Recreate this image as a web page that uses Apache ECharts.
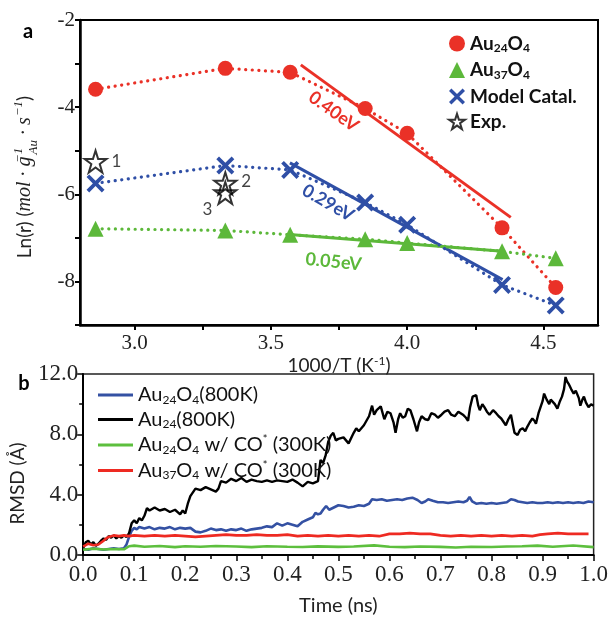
<!DOCTYPE html>
<html>
<head>
<meta charset="utf-8">
<script src="https://cdn.jsdelivr.net/npm/echarts@6/dist/echarts.min.js"></script>
<style>
html, body { margin: 0; padding: 0; background: #fff; }
#main { width: 611px; height: 617px; }
</style>
</head>
<body>
<div id="main"></div>
<script>
// ---- panel a : Arrhenius plot ----
var invT = [2.857, 3.333, 3.571, 3.846, 4.0, 4.348, 4.545];
var au24o4 = [-3.59, -3.11, -3.20, -4.03, -4.60, -6.77, -8.14];
var au37o4 = [-6.79, -6.83, -6.93, -7.03, -7.12, -7.31, -7.47];
var modelCatal = [-5.75, -5.34, -5.44, -6.19, -6.70, -8.08, -8.55];
var expX = [2.857, 3.333, 3.333];
var expY = [-5.25, -5.75, -5.97];
var expLabels = ['1', '2', '3'];
var fitRed = [[3.61, -3.03], [4.38, -6.53]];
var fitBlue = [[3.57, -5.28], [4.35, -7.96]];
var fitGreen = [[3.58, -6.93], [4.35, -7.31]];
var xTicksA = [3.0, 3.25, 3.5, 3.75, 4.0, 4.25, 4.5];
var xLabelsA = [3.0, 3.5, 4.0, 4.5];

// ---- panel b : RMSD traces [time (ns), RMSD (A)] ----
var blackTrace = [
  [0.000,0.45],[0.005,0.85],[0.010,0.95],[0.015,0.70],[0.020,0.85],[0.025,0.60],[0.030,0.75],[0.035,0.95],[0.040,1.10],[0.045,1.00],
  [0.050,1.25],[0.055,1.15],[0.060,1.30],[0.065,1.10],[0.070,1.25],[0.075,1.15],[0.080,1.30],[0.085,1.20],[0.090,1.45],[0.095,2.10],
  [0.100,2.30],[0.105,2.10],[0.110,2.45],[0.115,2.30],[0.120,2.60],[0.125,3.10],[0.130,2.95],[0.140,3.15],[0.150,2.95],[0.160,3.05],
  [0.170,2.85],[0.180,3.00],[0.190,2.70],[0.195,2.95],[0.200,2.75],[0.205,3.40],[0.210,3.90],[0.220,4.40],[0.230,4.30],[0.240,4.50],
  [0.250,4.35],[0.260,4.20],[0.265,4.40],[0.270,4.90],[0.280,4.80],[0.290,5.05],[0.300,4.90],[0.310,5.10],[0.320,4.85],[0.330,5.00],
  [0.340,4.90],[0.350,4.85],[0.360,4.95],[0.370,4.85],[0.380,4.95],[0.390,4.90],[0.400,4.85],[0.410,5.00],[0.420,4.80],[0.430,4.55],
  [0.440,4.85],[0.450,4.75],[0.460,4.90],[0.465,6.30],[0.470,6.10],[0.475,6.60],[0.480,7.50],[0.485,7.90],[0.490,8.10],[0.495,7.60],
  [0.500,7.70],[0.510,7.80],[0.520,7.40],[0.530,8.10],[0.535,8.40],[0.540,8.20],[0.550,8.60],[0.555,8.90],[0.560,9.20],[0.566,9.90],
  [0.570,9.30],[0.575,9.60],[0.583,9.85],[0.590,9.00],[0.596,9.50],[0.602,9.40],[0.608,8.80],[0.612,8.10],[0.617,9.00],[0.621,9.40],
  [0.626,9.10],[0.631,9.20],[0.636,9.70],[0.641,9.60],[0.647,9.00],[0.654,8.20],[0.658,8.80],[0.663,9.20],[0.670,9.00],[0.676,8.95],
  [0.682,9.40],[0.689,9.30],[0.695,9.10],[0.702,9.30],[0.708,9.50],[0.715,9.60],[0.721,9.30],[0.728,9.20],[0.735,9.50],[0.744,9.30],
  [0.750,9.10],[0.754,8.90],[0.758,9.80],[0.763,10.50],[0.770,10.60],[0.774,9.90],[0.777,9.60],[0.782,10.00],[0.786,9.80],[0.791,9.50],
  [0.796,9.30],[0.803,9.60],[0.809,9.40],[0.814,9.20],[0.819,9.05],[0.824,8.80],[0.828,8.60],[0.833,9.00],[0.838,9.30],[0.842,8.60],
  [0.845,8.10],[0.851,7.95],[0.856,8.30],[0.861,8.40],[0.866,8.20],[0.870,8.50],[0.875,8.80],[0.880,9.05],[0.884,8.90],[0.887,8.70],
  [0.892,9.40],[0.896,9.80],[0.900,10.20],[0.903,10.70],[0.908,10.30],[0.913,10.00],[0.916,10.30],[0.919,10.40],[0.924,10.00],[0.929,9.70],
  [0.934,10.20],[0.938,10.50],[0.942,11.00],[0.945,11.80],[0.948,11.50],[0.951,11.35],[0.956,11.00],[0.961,10.70],[0.965,10.90],[0.968,11.00],
  [0.971,10.40],[0.974,9.90],[0.978,10.30],[0.981,10.50],[0.985,10.10],[0.990,9.80],[0.995,10.00],[1.000,9.90]
];
var blueTrace = [
  [0.000,0.40],[0.010,0.35],[0.020,0.45],[0.030,0.40],[0.040,0.35],[0.050,0.40],[0.060,0.45],[0.070,0.40],[0.080,0.45],[0.085,0.70],
  [0.090,1.20],[0.095,1.60],[0.100,1.80],[0.105,1.70],[0.110,1.85],[0.120,1.75],[0.130,1.85],[0.140,1.70],[0.150,1.80],[0.160,1.75],
  [0.170,1.85],[0.180,1.70],[0.190,1.80],[0.200,1.75],[0.210,1.80],[0.220,1.55],[0.230,1.50],[0.240,1.60],[0.250,1.75],[0.260,1.65],
  [0.270,1.70],[0.280,1.60],[0.290,1.70],[0.300,1.65],[0.310,1.75],[0.320,1.60],[0.330,1.70],[0.340,1.75],[0.350,1.80],[0.360,1.90],
  [0.370,1.85],[0.380,2.10],[0.390,1.95],[0.400,2.10],[0.410,2.00],[0.420,1.90],[0.430,2.20],[0.440,2.35],[0.450,2.50],[0.455,2.80],
  [0.460,2.70],[0.465,2.75],[0.470,3.00],[0.476,3.25],[0.482,3.00],[0.488,3.10],[0.494,3.20],[0.500,3.30],[0.510,3.25],[0.520,3.15],
  [0.530,3.20],[0.540,3.30],[0.550,3.25],[0.560,3.40],[0.566,3.70],[0.575,3.65],[0.585,3.70],[0.595,3.60],[0.605,3.65],[0.615,3.70],
  [0.625,3.65],[0.635,3.75],[0.645,3.80],[0.655,3.65],[0.663,3.45],[0.670,3.55],[0.676,3.70],[0.685,3.60],[0.695,3.50],[0.705,3.50],
  [0.715,3.45],[0.725,3.50],[0.735,3.55],[0.745,3.50],[0.752,3.60],[0.757,3.85],[0.762,3.55],[0.770,3.40],[0.780,3.45],[0.790,3.40],
  [0.800,3.45],[0.810,3.40],[0.820,3.45],[0.830,3.50],[0.838,3.70],[0.845,3.65],[0.852,3.55],[0.861,3.50],[0.870,3.45],[0.880,3.50],
  [0.890,3.45],[0.900,3.45],[0.910,3.50],[0.920,3.45],[0.930,3.50],[0.940,3.45],[0.950,3.50],[0.960,3.45],[0.970,3.50],[0.980,3.45],
  [0.990,3.55],[1.000,3.50]
];
var greenTrace = [
  [0.00,0.35],[0.02,0.42],[0.04,0.36],[0.06,0.40],[0.08,0.38],[0.09,0.58],[0.10,0.62],[0.12,0.55],[0.15,0.60],[0.18,0.52],
  [0.20,0.58],[0.23,0.55],[0.26,0.60],[0.30,0.56],[0.33,0.52],[0.36,0.58],[0.40,0.55],[0.43,0.53],[0.46,0.57],[0.50,0.54],
  [0.53,0.56],[0.57,0.64],[0.60,0.55],[0.63,0.52],[0.66,0.56],[0.70,0.54],[0.73,0.50],[0.76,0.55],[0.80,0.53],[0.83,0.56],
  [0.86,0.58],[0.89,0.62],[0.92,0.55],[0.96,0.63],[1.00,0.52]
];
var redTrace = [
  [0.00,0.55],[0.01,0.75],[0.02,0.65],[0.03,0.70],[0.04,0.95],[0.045,1.10],[0.05,1.20],[0.06,1.30],[0.07,1.25],[0.08,1.30],
  [0.09,1.25],[0.10,1.30],[0.12,1.25],[0.14,1.30],[0.16,1.25],[0.18,1.30],[0.20,1.25],[0.22,1.20],[0.24,1.25],[0.26,1.30],
  [0.28,1.35],[0.30,1.30],[0.32,1.30],[0.34,1.35],[0.36,1.30],[0.38,1.30],[0.40,1.35],[0.42,1.25],[0.44,1.30],[0.46,1.25],
  [0.48,1.30],[0.50,1.25],[0.52,1.30],[0.54,1.25],[0.56,1.30],[0.58,1.25],[0.60,1.40],[0.62,1.40],[0.64,1.45],[0.66,1.40],
  [0.68,1.40],[0.70,1.30],[0.72,1.25],[0.74,1.30],[0.76,1.25],[0.78,1.30],[0.80,1.25],[0.82,1.30],[0.84,1.25],[0.86,1.30],
  [0.88,1.25],[0.895,1.35],[0.91,1.40],[0.93,1.45],[0.95,1.40],[0.97,1.40],[0.99,1.40]
];

var RED = '#ea3127', GREEN = '#5cb83a', BLUE = '#2f4fa6';
var serif = 'Liberation Serif', sans = 'Lato';
var xPath = 'path://M3,0L10,7L17,0L20,3L13,10L20,17L17,20L10,13L3,20L0,17L7,10L0,3Z';
var starPath = 'path://M50,2L61,36L97,36L68,57L79,92L50,71L21,92L32,57L3,36L39,36Z';

function pairs(xs, ys) { return xs.map(function (x, i) { return [x, ys[i]]; }); }

var dotted = { type: [0.1, 6.5], cap: 'round', width: 3.2 };

var legendA = {
  'Au24O4': '{b|Au}{s|24}{b|O}{s|4}',
  'Au37O4': '{b|Au}{s|37}{b|O}{s|4}',
  'Model Catal.': '{b|Model Catal.}',
  'Exp.': '{b|Exp.}'
};
var legendB = {
  'Au24O4(800K)': '{t|Au}{s|24}{t|O}{s|4}{t|(800K)}',
  'Au24(800K)': '{t|Au}{s|24}{t|(800K)}',
  'Au24O4 w/ CO* (300K)': '{t|Au}{s|24}{t|O}{s|4}{t| w/ CO}{p|*}{t| (300K)}',
  'Au37O4 w/ CO* (300K)': '{t|Au}{s|37}{t|O}{s|4}{t| w/ CO}{p|*}{t| (300K)}'
};

var chart = echarts.init(document.getElementById('main'));

var option = {
  animation: false,
  backgroundColor: '#fff',
  grid: [
    { left: 80, top: 20, right: 13, height: 305, show: true, borderColor: '#000', borderWidth: 2 },
    { left: 82, top: 374, right: 14, height: 183, show: true, borderColor: '#222', borderWidth: 1.5 }
  ],
  xAxis: [
    {
      type: 'value', gridIndex: 0, min: 2.8, max: 4.7,
      axisLine: { onZero: false, lineStyle: { color: '#000', width: 2.5 } },
      axisTick: { customValues: xTicksA, length: 5, lineStyle: { color: '#000', width: 2 } },
      axisLabel: { customValues: xLabelsA, formatter: function (v) { return v.toFixed(1); },
        fontFamily: serif, fontSize: 21, color: '#222', margin: 8 },
      splitLine: { show: false },
      name: '{n|1000/T (K}{u|-1}{n|)}', nameLocation: 'middle', nameGap: 22,
      nameTextStyle: { rich: {
        n: { fontFamily: sans, fontSize: 19, color: '#222', lineHeight: 22 },
        u: { fontFamily: sans, fontSize: 12, color: '#222', verticalAlign: 'top' }
      } }
    },
    {
      type: 'value', gridIndex: 1, min: 0, max: 1, interval: 0.1,
      axisLine: { onZero: false, lineStyle: { color: '#000', width: 2 } },
      axisTick: { length: 6, lineStyle: { color: '#000', width: 1.5 } },
      minorTick: { show: true, splitNumber: 2, length: 4, lineStyle: { color: '#000', width: 1.5 } },
      axisLabel: { formatter: function (v) { return v.toFixed(1); }, fontFamily: serif, fontSize: 23, color: '#222', margin: 8 },
      splitLine: { show: false },
      name: 'Time (ns)', nameLocation: 'middle', nameGap: 41,
      nameTextStyle: { fontFamily: sans, fontSize: 20, color: '#222' }
    }
  ],
  yAxis: [
    {
      type: 'value', gridIndex: 0, min: -9, max: -2, interval: 1,
      axisLine: { onZero: false, lineStyle: { color: '#000', width: 2.5 } },
      axisTick: { length: 5, lineStyle: { color: '#000', width: 2 } },
      axisLabel: { formatter: function (v) { return v % 2 === 0 ? String(v) : ''; },
        fontFamily: serif, fontSize: 21, color: '#222', margin: 5 },
      splitLine: { show: false }
    },
    {
      type: 'value', gridIndex: 1, min: 0, max: 12, interval: 4,
      axisLine: { onZero: false, lineStyle: { color: '#000', width: 2 } },
      axisTick: { length: 6, lineStyle: { color: '#000', width: 1.5 } },
      minorTick: { show: true, splitNumber: 2, length: 4, lineStyle: { color: '#000', width: 1.5 } },
      axisLabel: { formatter: function (v) { return v.toFixed(1); }, fontFamily: serif, fontSize: 23, color: '#222', margin: 5 },
      splitLine: { show: false },
      name: 'RMSD (Å)', nameLocation: 'middle', nameGap: 47,
      nameTextStyle: { fontFamily: sans, fontSize: 19, color: '#222', padding: [0, 38, 0, 0] }
    }
  ],
  legend: [
    {
      data: [
        { name: 'Au24O4', icon: 'circle' },
        { name: 'Au37O4', icon: 'triangle' },
        { name: 'Model Catal.', icon: xPath },
        { name: 'Exp.', icon: starPath }
      ],
      orient: 'vertical', left: 443, top: 29, itemWidth: 16, itemHeight: 16, itemGap: 6,
      selectedMode: false,
      formatter: function (name) { return legendA[name]; },
      textStyle: { rich: {
        b: { fontFamily: sans, fontWeight: 'bold', fontSize: 19, color: '#111', lineHeight: 22 },
        s: { fontFamily: sans, fontWeight: 'bold', fontSize: 12, color: '#111', verticalAlign: 'bottom' }
      } }
    },
    {
      data: [
        { name: 'Au24O4(800K)', icon: 'rect' },
        { name: 'Au24(800K)', icon: 'rect' },
        { name: 'Au24O4 w/ CO* (300K)', icon: 'rect' },
        { name: 'Au37O4 w/ CO* (300K)', icon: 'rect' }
      ],
      orient: 'vertical', left: 93, top: 380, itemWidth: 35, itemHeight: 3, itemGap: 3.5,
      selectedMode: false,
      formatter: function (name) { return legendB[name]; },
      textStyle: { rich: {
        t: { fontFamily: sans, fontSize: 20, color: '#111', lineHeight: 22 },
        s: { fontFamily: sans, fontSize: 12, color: '#111', verticalAlign: 'bottom' },
        p: { fontFamily: sans, fontSize: 11, color: '#111', verticalAlign: 'top' }
      } }
    }
  ],
  series: [
    { name: 'Au24O4', type: 'line', xAxisIndex: 0, yAxisIndex: 0, data: pairs(invT, au24o4),
      symbol: 'circle', symbolSize: 15, itemStyle: { color: RED }, lineStyle: Object.assign({ color: RED }, dotted), z: 3 },
    { name: 'Au37O4', type: 'line', xAxisIndex: 0, yAxisIndex: 0, data: pairs(invT, au37o4),
      symbol: 'triangle', symbolSize: 16, itemStyle: { color: GREEN }, lineStyle: Object.assign({ color: GREEN }, dotted), z: 3 },
    { name: 'Model Catal.', type: 'line', xAxisIndex: 0, yAxisIndex: 0, data: pairs(invT, modelCatal),
      symbol: xPath, symbolSize: 18, itemStyle: { color: BLUE }, lineStyle: Object.assign({ color: BLUE }, dotted), z: 3 },
    { name: 'Exp.', type: 'scatter', xAxisIndex: 0, yAxisIndex: 0, symbol: starPath, symbolSize: 22,
      itemStyle: { color: 'rgba(255,255,255,0)', borderColor: '#000', borderWidth: 2 }, z: 4,
      label: { show: true, fontFamily: sans, fontSize: 17, color: '#111' },
      data: expX.map(function (x, i) {
        var lab = i === 2 ? { position: 'left', distance: 3, offset: [2, 17] } : { position: 'right', distance: 4, offset: [0, i === 1 ? -2 : 0] };
        lab.formatter = expLabels[i];
        return { value: [x, expY[i]], label: lab };
      }) },
    { type: 'line', xAxisIndex: 0, yAxisIndex: 0, data: fitRed, symbol: 'none', lineStyle: { color: RED, width: 3 }, z: 2 },
    { type: 'line', xAxisIndex: 0, yAxisIndex: 0, data: fitBlue, symbol: 'none', lineStyle: { color: BLUE, width: 3 }, z: 2 },
    { type: 'line', xAxisIndex: 0, yAxisIndex: 0, data: fitGreen, symbol: 'none', lineStyle: { color: GREEN, width: 3 }, z: 2 },

    { name: 'Au24O4(800K)', type: 'line', xAxisIndex: 1, yAxisIndex: 1, data: blueTrace, symbol: 'none',
      itemStyle: { color: '#3451a3' }, lineStyle: { color: '#3451a3', width: 2.6 } },
    { name: 'Au24(800K)', type: 'line', xAxisIndex: 1, yAxisIndex: 1, data: blackTrace, symbol: 'none',
      itemStyle: { color: '#000' }, lineStyle: { color: '#000', width: 2.4 } },
    { name: 'Au24O4 w/ CO* (300K)', type: 'line', xAxisIndex: 1, yAxisIndex: 1, data: greenTrace, symbol: 'none',
      itemStyle: { color: '#5dbf3e' }, lineStyle: { color: '#5dbf3e', width: 2.6 } },
    { name: 'Au37O4 w/ CO* (300K)', type: 'line', xAxisIndex: 1, yAxisIndex: 1, data: redTrace, symbol: 'none',
      itemStyle: { color: '#ee2a22' }, lineStyle: { color: '#ee2a22', width: 2.6 } }
  ]
};

chart.setOption(option);

// slope labels placed in data coordinates
var notes = [
  { text: '0.40eV', at: [3.73, -4.1], color: RED, rot: -0.62 },
  { text: '0.29eV', at: [3.71, -6.2], color: BLUE, rot: -0.52 },
  { text: '0.05eV', at: [3.73, -7.55], color: GREEN, rot: -0.1 }
];
var graphics = notes.map(function (n) {
  var p = chart.convertToPixel({ gridIndex: 0 }, n.at);
  return { type: 'text', x: p[0], y: p[1], rotation: n.rot, z: 10,
    style: { text: n.text, fontFamily: sans, fontWeight: 'bold', fontSize: 18, fill: n.color, align: 'center', verticalAlign: 'middle' } };
});
graphics.push(
  { type: 'text', x: 28, y: 32, style: { text: 'a', fontFamily: sans, fontWeight: 'bold', fontSize: 20, fill: '#000', align: 'center', verticalAlign: 'middle' } },
  { type: 'text', x: 24, y: 384, style: { text: 'b', fontFamily: sans, fontWeight: 'bold', fontSize: 20, fill: '#000', align: 'center', verticalAlign: 'middle' } },
  { type: 'text', x: 25, y: 177, rotation: Math.PI / 2,
    style: {
      text: '{n|Ln(r) (}{m|mol · g}{up|−1}{dn|Au}{m| · s}{up2|−1}{n|)}',
      align: 'center', verticalAlign: 'middle',
      rich: {
        n: { fontFamily: sans, fontSize: 19, fill: '#222', lineHeight: 30 },
        m: { fontFamily: serif, fontStyle: 'italic', fontSize: 20, fill: '#222', lineHeight: 30 },
        up: { fontFamily: serif, fontStyle: 'italic', fontSize: 13, fill: '#222', verticalAlign: 'top', width: 0, padding: [2, 0, 0, 1] },
        dn: { fontFamily: serif, fontStyle: 'italic', fontSize: 13, fill: '#222', verticalAlign: 'bottom', padding: [0, 0, 0, 1] },
        up2: { fontFamily: serif, fontStyle: 'italic', fontSize: 13, fill: '#222', verticalAlign: 'top', padding: [2, 0, 0, 1] }
      }
    } }
);
chart.setOption({ graphic: graphics });
</script>
</body>
</html>
